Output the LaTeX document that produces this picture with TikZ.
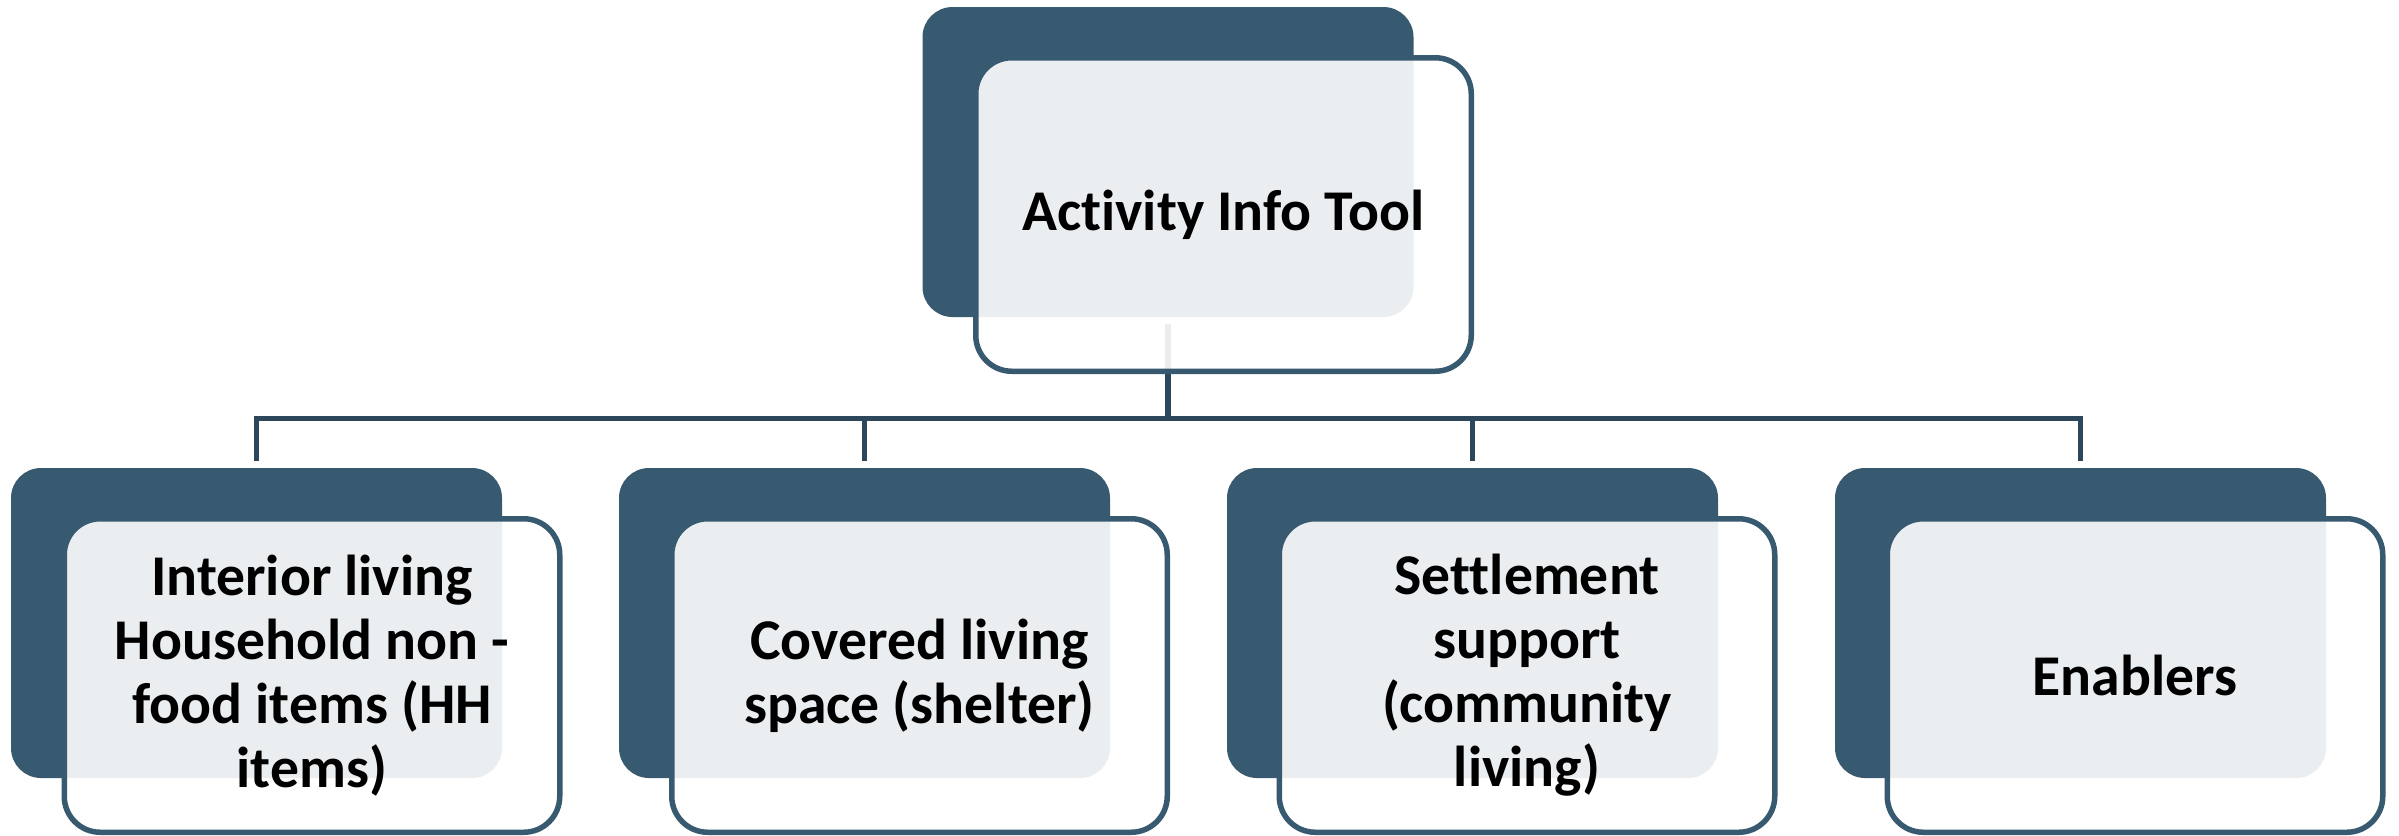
\documentclass[tikz,border=0pt]{standalone}
\usepackage{fontspec}
\setmainfont[Ligatures=NoCommon]{Carlito}
\usetikzlibrary{positioning,calc}
\definecolor{slate}{RGB}{55,90,112}
\definecolor{slate-dark}{RGB}{45,70,90}
\newlength{\px}
\setlength{\px}{0.01cm}
\tikzstyle{back}=[fill=slate,rounded corners=30\px,minimum width=491\px,minimum height=310\px,inner sep=0pt]
\tikzstyle{front}=[draw=slate,line width=5.5\px,fill=white,fill opacity=0.9,text opacity=1,rounded corners=36\px,minimum width=495.5\px,minimum height=313.5\px,inner sep=0pt,align=center,font=\bfseries\fontsize{16.4}{18.2}\selectfont]
\tikzstyle{link}=[draw=slate-dark,line width=5.5\px]

\begin{document}
\begin{tikzpicture}[x=\px,y=-\px]
  \useasboundingbox (0,0) rectangle (2399,835);

  \node[back] at (1168,162) (toolb) {};
  \node[back] at (256.5,623) (hhb) {};
  \node[back] at (864.5,623) (shelb) {};
  \node[back] at (1472.5,623) (settb) {};
  \node[back] at (2080.5,623) (enab) {};

  \coordinate (hub) at (toolb.south|-0,418.5);
  \draw[link,shorten <=6\px] (toolb) -- (hub);
  \draw[link,shorten >=6\px] (hub) -| (hhb.north);
  \draw[link,shorten >=6\px] (hub) -| (shelb.north);
  \draw[link,shorten >=6\px] (hub) -| (settb.north);
  \draw[link,shorten >=6\px] (hub) -| (enab.north);

  \node[front] at (1223.5,214.5) (tool) {Activity Info Tool};
  \node[front] at (312,675.5) (hh) {Interior living\\Household non -\\food items (HH\\items)};
  \node[front] at (919.5,675.5) (shel) {Covered living\\space (shelter)};
  \node[front] at (1527,675.5) (sett) {Settlement\\support\\(community\\living)};
  \node[front] at (2135,675.5) (ena) {Enablers};

\end{tikzpicture}
\end{document}
